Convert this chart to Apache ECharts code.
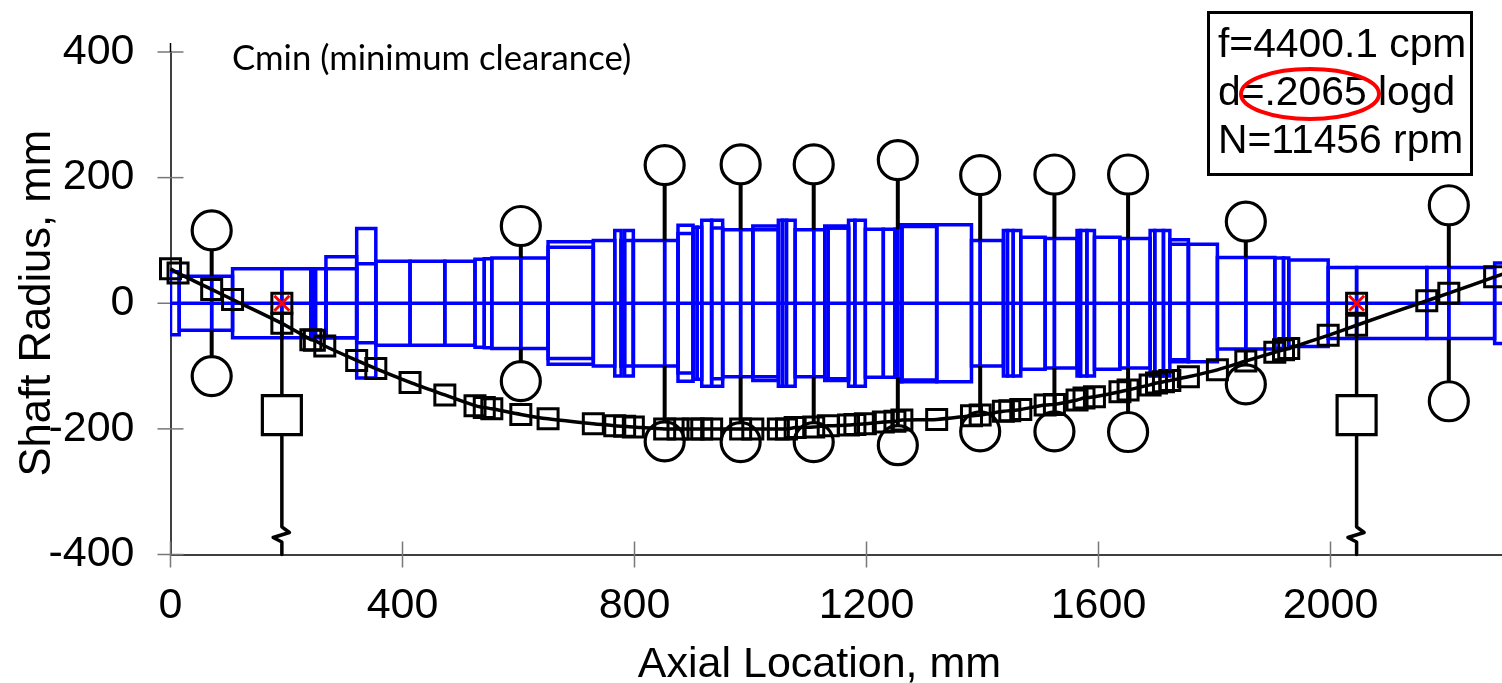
<!DOCTYPE html>
<html><head><meta charset="utf-8">
<style>html,body{margin:0;padding:0;background:#fff}#c{width:1502px;height:683px}</style>
<script src="https://cdn.jsdelivr.net/npm/echarts@6/dist/echarts.min.js"></script>
</head><body><div id="c"></div>
<script>
// Shaft elements (mm)
const elemStart =[0,15,71,107,192,242,246,250,268,268,321,321,354,413,473,525,541,554,604,651,651,729,766,777,783,777,798,852,875,875,901,908,916,933,933,952,983,1004,1004,1048,1055,1062,1077,1109,1128,1128,1134,1169,1180,1198,1229,1249,1254,1261,1261,1321,1381,1396,1436,1443,1453,1466,1508,1524,1563,1569,1580,1593,1637,1651,1689,1697,1712,1723,1723,1755,1805,1854,1904,1919,1928,1996,2045,2166,2204,2283];
const elemEnd   =[15,71,107,192,242,246,250,268,321,321,354,354,413,473,525,541,554,604,651,729,729,766,777,783,798,798,852,875,901,901,908,916,933,952,952,983,1004,1048,1048,1055,1062,1077,1109,1128,1169,1169,1169,1180,1198,1229,1249,1254,1261,1321,1321,1381,1396,1436,1443,1453,1466,1508,1524,1563,1569,1580,1593,1637,1651,1689,1697,1712,1723,1755,1755,1805,1854,1904,1919,1928,1996,2045,2166,2204,2283,2340];
const elemTop   =[50,43,43,55,55,55,55,55,55,74,119,63,67,67,67,70,71,72,72,98,89,100,116,100,116,100,100,100,124,111,121,121,132,132,120,117,117,123,117,132,132,132,117,117,123,120,120,132,132,118,118,118,125,125,122,125,100,100,116,116,116,105,103,103,116,116,116,105,103,103,116,116,116,101,94,94,73,73,72,72,69,57,57,57,57,64];
const elemBottom=[-50,-43,-43,-55,-55,-55,-55,-55,-55,-55,-119,-63,-67,-67,-67,-70,-71,-72,-72,-97,-88,-100,-116,-100,-116,-100,-100,-100,-124,-111,-121,-121,-132,-132,-120,-117,-117,-123,-117,-132,-132,-132,-117,-117,-123,-120,-120,-132,-132,-118,-118,-118,-125,-125,-122,-125,-100,-100,-116,-116,-116,-105,-103,-103,-116,-116,-116,-105,-103,-103,-116,-116,-116,-90,-93,-93,-73,-73,-72,-72,-69,-56,-56,-56,-56,-64];
const centerX=[0,2400], centerY=[0,0];

// Mode shape
const modeX=[0,13,71,107,192,242,248,266,321,354,413,473,525,541,554,604,651,729,766,783,798,852,875,901,916,933,983,1004,1048,1062,1077,1109,1134,1169,1180,1198,1229,1249,1261,1321,1381,1396,1436,1447,1466,1508,1524,1563,1575,1593,1637,1651,1689,1700,1712,1723,1755,1805,1854,1904,1919,1928,1996,2045,2166,2204,2283,2340];
const modeY=[55,48,22,6,-32,-58,-59,-68,-91,-104,-126,-146,-163,-166,-168,-177,-184,-192,-195,-196,-197,-200,-200,-200,-200,-200,-200,-200,-200,-200,-198,-197,-195,-194,-193,-192,-189,-188,-186,-185,-179,-178,-172,-171,-169,-162,-161,-154,-151,-149,-141,-138,-130,-127,-125,-123,-117,-106,-92,-78,-74,-72,-51,-35,4,16,42,60];

// Seals / disks: stations, circle centres, shaft rim
const sealX=[71,604,852,983,1109,1254,1396,1524,1651,1854,2204];
const sealTop=[116,123,220,221,221,228,204,205,205,130,156];
const sealBottom=[-116,-124,-220,-221,-221,-226,-204,-204,-205,-129,-156];
const sealRim=[43,72,100,117,117,118,100,103,103,73,57];

// Bearings
const bearingX=[192,2045];
const bearingZero=[0,0];
const bearingBox=[-178,-178];
const breakOffset=[0,0,13,-15,0,0];
const breakLevel=[-16,-356,-365,-373,-380,-400];

// Axis ticks and texts
const xTicks=[0,400,800,1200,1600,2000];
const yTicks=[-400,-200,0,200,400];
const xTitle='Axial Location, mm', yTitle='Shaft Radius, mm';
const noteLines=['f=4400.1 cpm','d=.2065 logd','N=11456 rpm'];
const caption='Cmin (minimum clearance)';

const elemData=elemStart.map((s,i)=>[s,elemEnd[i],elemTop[i],elemBottom[i]]);
const sealStem=sealX.map((x,i)=>[x,sealTop[i],sealRim[i],sealBottom[i]]);
const sealCircles=sealX.map((x,i)=>[x,sealTop[i]]).concat(sealX.map((x,i)=>[x,sealBottom[i]]));
const bearingLines=bearingX.map((x,k)=>({
  type:'line',xAxisIndex:0,yAxisIndex:0,symbol:'none',silent:true,z:4,clip:false,
  lineStyle:{color:'#000',width:3.5,cap:'round',join:'round'},
  data:breakLevel.map((y,i)=>[x+breakOffset[i],y])
}));
const BLUE='#0000ff';
const TICK='#777777';
const font='"Liberation Sans",Arial,sans-serif';
const TL=13;

const option={
  animation:false,backgroundColor:'#fff',
  grid:{left:170.5,top:52,right:-60.5,bottom:128.5,containLabel:false,outerBoundsMode:'none'},
  xAxis:{type:'value',position:'bottom',min:0,max:2400,interval:400,splitLine:{show:false},
    axisLine:{onZero:false,lineStyle:{color:'#000',width:1.5}},
    axisTick:{show:false},
    axisLabel:{fontFamily:font,fontSize:43,color:'#000',margin:30,formatter:v=>String(v)},
    name:xTitle,nameLocation:'middle',nameGap:89,nameMoveOverlap:false,
    nameTextStyle:{fontFamily:font,fontSize:43,color:'#000',padding:[0,94,0,0]}},
  yAxis:{type:'value',position:'left',min:-400,max:400,interval:200,splitLine:{show:false},
    axisLine:{onZero:false,lineStyle:{color:'#000',width:1.5}},
    axisTick:{show:false},
    axisLabel:{fontFamily:font,fontSize:43,color:'#000',margin:36},
    name:yTitle,nameLocation:'middle',nameGap:111,nameRotate:90,nameMoveOverlap:false,
    nameTextStyle:{fontFamily:font,fontSize:43.6,color:'#000'}},
  series:[
   {type:'custom',z:1,clip:false,silent:true,data:xTicks.map(v=>[v]),encode:{x:0},
    renderItem(p,api){const a=api.coord([api.value(0),-400]);
      return {type:'line',shape:{x1:a[0],y1:a[1]-TL,x2:a[0],y2:a[1]+TL},style:{stroke:TICK,lineWidth:1.5}};}},
   {type:'custom',z:1,clip:false,silent:true,data:yTicks.map(v=>[0,v]),encode:{x:0,y:1},
    renderItem(p,api){const a=api.coord([0,api.value(1)]);
      const kids=[{type:'line',shape:{x1:a[0]-TL,y1:a[1],x2:a[0]+TL,y2:a[1]},style:{stroke:TICK,lineWidth:1.5}}];
      if(api.value(1)===400) kids.push({type:'line',shape:{x1:a[0],y1:a[1]-9,x2:a[0],y2:a[1]},style:{stroke:'#000',lineWidth:1.5}});
      return {type:'group',children:kids};}},
   {type:'custom',z:2,clip:true,silent:true,data:elemData,
    encode:{x:[0,1],y:[2,3]},
    renderItem(p,api){
      const a=api.coord([api.value(0),api.value(2)]),b=api.coord([api.value(1),api.value(3)]);
      return {type:'rect',shape:{x:a[0],y:a[1],width:b[0]-a[0],height:b[1]-a[1]},
        style:{fill:'none',stroke:BLUE,lineWidth:3.5}};
    }},
   {type:'line',z:2,symbol:'none',silent:true,clip:true,
    lineStyle:{color:BLUE,width:3.5},data:centerX.map((x,i)=>[x,centerY[i]])},
   {type:'custom',z:4,clip:true,silent:true,data:sealStem,
    encode:{x:0,y:[1,3]},
    renderItem(p,api){
      const x=api.value(0),r=api.value(2),st={stroke:'#000',lineWidth:4,fill:'none'};
      const a=api.coord([x,api.value(1)]),b=api.coord([x,r]),c=api.coord([x,-r]),d=api.coord([x,api.value(3)]);
      return {type:'group',children:[
        {type:'line',shape:{x1:a[0],y1:a[1],x2:b[0],y2:b[1]},style:st},
        {type:'line',shape:{x1:c[0],y1:c[1],x2:d[0],y2:d[1]},style:st}]};
    }},
   ...bearingLines,
   {type:'scatter',z:5,silent:true,symbol:'circle',symbolSize:39,
    itemStyle:{color:'#fff',borderColor:'#000',borderWidth:3.2,opacity:1},data:sealCircles},
   {type:'scatter',z:5,silent:true,symbol:'rect',symbolSize:39,
    itemStyle:{color:'#fff',borderColor:'#000',borderWidth:3.2,opacity:1},data:bearingX.map((x,i)=>[x,bearingBox[i]])},
   {type:'line',z:6,silent:true,clip:true,smooth:0.25,showAllSymbol:true,
    symbol:'rect',symbolSize:20,
    lineStyle:{color:'#000',width:3.5},
    itemStyle:{color:'rgba(0,0,0,0)',borderColor:'#000',borderWidth:3},
    data:modeX.map((x,i)=>[x,modeY[i]])},
   {type:'scatter',z:6,silent:true,symbol:'rect',symbolSize:20,
    itemStyle:{color:'rgba(0,0,0,0)',borderColor:'#000',borderWidth:3,opacity:1},
    data:bearingX.map((x,i)=>[x,bearingZero[i]])},
   {type:'scatter',z:7,silent:true,symbol:'path://M0 0L10 10M10 0L0 10',symbolSize:15,
    itemStyle:{color:'rgba(0,0,0,0)',borderColor:'#ff0000',borderWidth:3,opacity:1},
    data:bearingX.map((x,i)=>[x,bearingZero[i]])}
  ],
  graphic:[
   {type:'rect',z:20,shape:{x:1208.5,y:12.5,width:263,height:162},style:{fill:'#fff',stroke:'#000',lineWidth:3}},
   {type:'text',z:21,x:1218,y:46,style:{text:noteLines[0],font:'40.8px '+font,fill:'#000',textVerticalAlign:'middle'}},
   {type:'text',z:21,x:1218,y:94,style:{text:noteLines[1],font:'40.8px '+font,fill:'#000',textVerticalAlign:'middle'}},
   {type:'text',z:21,x:1218,y:142,style:{text:noteLines[2],font:'40.8px '+font,fill:'#000',textVerticalAlign:'middle'}},
   {type:'ellipse',z:22,shape:{cx:1310,cy:94,rx:69,ry:25},style:{fill:'none',stroke:'#ff0000',lineWidth:4}},
   {type:'text',z:21,x:232,y:59,style:{text:caption,font:'34.7px Lato,sans-serif',fill:'#000',textVerticalAlign:'middle'}}
  ]
};
echarts.init(document.getElementById('c'),null,{renderer:'canvas'}).setOption(option);
</script></body></html>
